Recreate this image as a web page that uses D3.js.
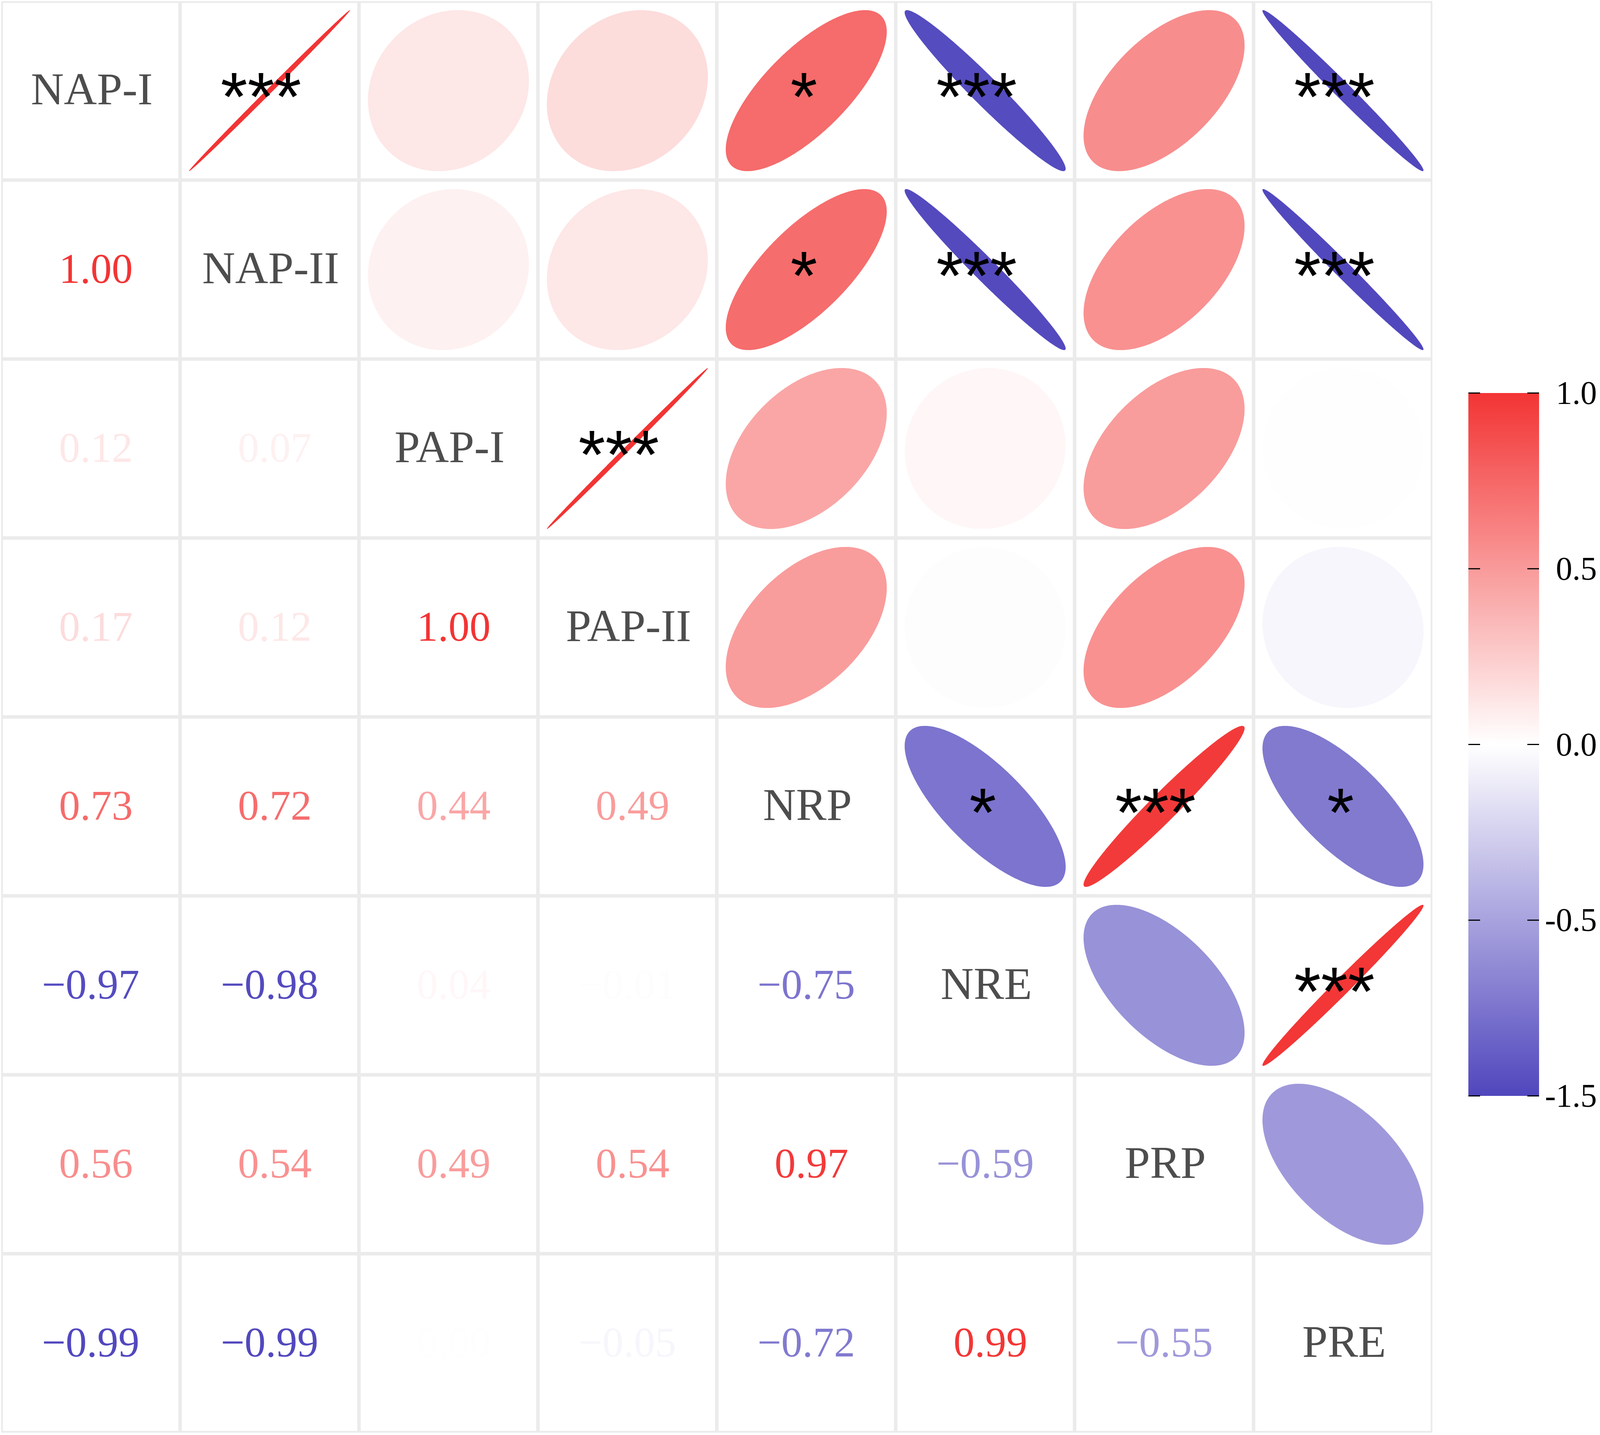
<!DOCTYPE html>
<html>
<head>
<meta charset="utf-8">
<script src="https://cdn.jsdelivr.net/npm/d3@7"></script>
<style>
  body { margin: 0; background: #ffffff; }
  svg { display: block; }
</style>
</head>
<body>
<script>
// variables of the matrix (rows and columns)
const variables = ["NAP-I", "NAP-II", "PAP-I", "PAP-II", "NRP", "NRE", "PRP", "PRE"];

// lower triangle of the correlation matrix, one row per variable
const rowNAP1 = [];
const rowNAP2 = [0.999];
const rowPAP1 = [0.12, 0.07];
const rowPAP2 = [0.17, 0.12, 0.999];
const rowNRP  = [0.73, 0.72, 0.44, 0.49];
const rowNRE  = [-0.97, -0.98, 0.04, -0.01, -0.75];
const rowPRP  = [0.56, 0.54, 0.49, 0.54, 0.97, -0.59];
const rowPRE  = [-0.99, -0.99, -0.004, -0.05, -0.72, 0.99, -0.55];

// significance marks in the upper triangle: [row, column, mark]
const sigMarks = [
  ["NAP-I", "NAP-II", "***"], ["NAP-I", "NRP", "*"], ["NAP-I", "NRE", "***"], ["NAP-I", "PRE", "***"],
  ["NAP-II", "NRP", "*"], ["NAP-II", "NRE", "***"], ["NAP-II", "PRE", "***"],
  ["PAP-I", "PAP-II", "***"],
  ["NRP", "NRE", "*"], ["NRP", "PRP", "***"], ["NRP", "PRE", "*"],
  ["NRE", "PRE", "***"]
];

// colour legend
const legendTicks = [1, 0.5, 0, -0.5, -1];
const legendLabels = ["1.0", "0.5", "0.0", "-0.5", "-1.5"];

let svg = null;
let x, y, color, legendY = null;
let cells = [];

buildCells();
appendSvg("body");
setupScales();
appendGrid();
appendEllipses();
appendNumbers();
appendDiagonalLabels();
appendStars();
appendLegend();

function buildCells() {
  const rows = [rowNAP1, rowNAP2, rowPAP1, rowPAP2, rowNRP, rowNRE, rowPRP, rowPRE];
  rows.forEach(function(vals, i) {
    vals.forEach(function(v, j) {
      cells.push({row: variables[i], col: variables[j], r: v});
    });
  });
}

function appendSvg(domElement) {
  svg = d3.select(domElement).append("svg")
    .attr("width", 4097)
    .attr("height", 3673);
  svg.append("rect").attr("width", 4097).attr("height", 3673).attr("fill", "#ffffff");
}

function setupScales() {
  x = d3.scaleBand().domain(variables).range([3, 3667]);
  y = d3.scaleBand().domain(variables).range([3, 3667]);
  color = d3.scaleLinear()
    .domain([-1, 0, 1])
    .range(["#5046bd", "#ffffff", "#f33434"])
    .interpolate(d3.interpolateRgb);
  legendY = d3.scaleLinear().domain([-1, 1]).range([2805, 1006]);
}

function appendGrid() {
  const pairs = d3.cross(variables, variables);
  const bw = x.bandwidth();
  svg.append("g")
    .selectAll("rect")
    .data(pairs)
    .enter()
    .append("rect")
      .attr("x", function(d) { return x(d[1]) + 2.25; })
      .attr("y", function(d) { return y(d[0]) + 2.25; })
      .attr("width", bw - 4.5)
      .attr("height", bw - 4.5)
      .attr("fill", "none")
      .attr("stroke", "#ebebeb")
      .attr("stroke-width", 4.5);
}

// corrplot style ellipse: x = cos(t + d/2), y = cos(t - d/2), d = acos(r)
function ellipsePath(r, cx, cy, rad) {
  const d = Math.acos(Math.max(-1, Math.min(1, r)));
  const pts = d3.range(0, 2 * Math.PI, Math.PI / 180).map(function(t) {
    return [cx + rad * Math.cos(t + d / 2), cy - rad * Math.cos(t - d / 2)];
  });
  return d3.line().curve(d3.curveLinearClosed)(pts);
}

function appendEllipses() {
  const bw = x.bandwidth();
  // mirror of lower triangle
  svg.append("g")
    .selectAll("path")
    .data(cells)
    .enter()
    .append("path")
      .attr("d", function(d) {
        return ellipsePath(d.r, x(d.row) + bw / 2, y(d.col) + bw / 2, bw * 0.45);
      })
      .attr("fill", function(d) { return color(d.r); });
}

function formatNumber(v) {
  const rv = Math.round(v * 100) / 100;
  return (rv < 0 ? "\u2212" : "\u00a0") + Math.abs(rv).toFixed(2);
}

function appendNumbers() {
  const bw = x.bandwidth();
  svg.append("g")
    .selectAll("text")
    .data(cells)
    .enter()
    .append("text")
      .attr("x", function(d) { return x(d.col) + bw / 2; })
      .attr("y", function(d) { return y(d.row) + bw / 2 + 34; })
      .attr("text-anchor", "middle")
      .style("font-family", "'Liberation Serif', 'Times New Roman', serif")
      .style("font-size", "108px")
      .attr("fill", function(d) { return color(d.r); })
      .text(function(d) { return formatNumber(d.r); });
}

function appendDiagonalLabels() {
  const bw = x.bandwidth();
  svg.append("g")
    .selectAll("text")
    .data(variables)
    .enter()
    .append("text")
      .attr("x", function(d) { return x(d) + bw / 2 + 3; })
      .attr("y", function(d) { return y(d) + bw / 2 + 35; })
      .attr("text-anchor", "middle")
      .style("font-family", "'Liberation Serif', 'Times New Roman', serif")
      .style("font-size", "117px")
      .attr("fill", "#4d4d4d")
      .text(function(d) { return d; });
}

function appendStars() {
  const bw = x.bandwidth();
  svg.append("g")
    .selectAll("text")
    .data(sigMarks)
    .enter()
    .append("text")
      .attr("x", function(d) { return x(d[1]) + bw / 2 - 6 - 8 * (d[2].length - 1); })
      .attr("y", function(d) { return y(d[0]) + bw / 2 + 76; })
      .attr("text-anchor", "middle")
      .style("font-family", "'Liberation Sans', Arial, sans-serif")
      .style("font-size", "177px")
      .attr("fill", "#000000")
      .text(function(d) { return d[2]; });
}

function appendLegend() {
  const left = 3759, right = 3940;
  const grad = svg.append("defs").append("linearGradient")
    .attr("id", "cbar")
    .attr("x1", 0).attr("y1", 1).attr("x2", 0).attr("y2", 0);
  grad.selectAll("stop")
    .data(d3.range(0, 1.0001, 0.05))
    .enter()
    .append("stop")
      .attr("offset", function(t) { return t; })
      .attr("stop-color", function(t) { return color(-1 + 2 * t); });

  const g = svg.append("g").attr("class", "legend");
  g.append("rect")
    .attr("x", left)
    .attr("y", legendY(1))
    .attr("width", right - left)
    .attr("height", legendY(-1) - legendY(1))
    .attr("fill", "url(#cbar)");

  const ticks = g.selectAll("g.tick")
    .data(legendTicks)
    .enter()
    .append("g")
      .attr("class", "tick")
      .attr("transform", function(d) { return "translate(0," + legendY(d) + ")"; });
  ticks.append("line")
    .attr("x1", left).attr("x2", left + 30)
    .attr("stroke", "#000").attr("stroke-width", 3);
  ticks.append("line")
    .attr("x1", right - 30).attr("x2", right)
    .attr("stroke", "#000").attr("stroke-width", 3);
  ticks.append("text")
    .attr("x", 4088)
    .attr("y", 28)
    .attr("text-anchor", "end")
    .style("font-family", "'Liberation Serif', 'Times New Roman', serif")
    .style("font-size", "84px")
    .attr("fill", "#000")
    .text(function(d, i) { return legendLabels[i]; });
}
</script>
</body>
</html>
